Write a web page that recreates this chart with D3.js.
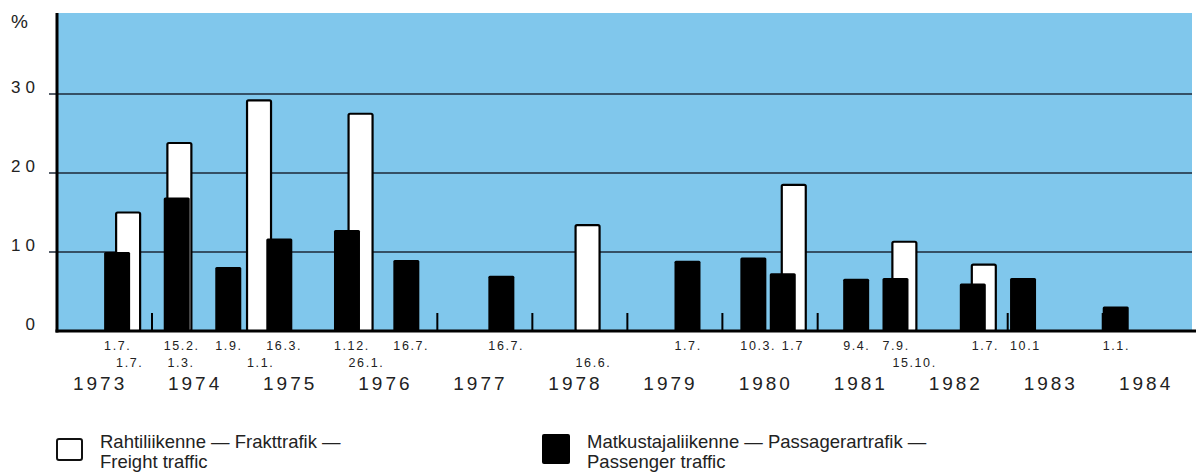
<!DOCTYPE html>
<html>
<head>
<meta charset="utf-8">
<script src="https://cdn.jsdelivr.net/npm/d3@7"></script>
<style>
  body { margin: 0; background: #fff; }
  svg { display: block; font-family: "Liberation Sans", Arial, sans-serif; }
</style>
</head>
<body>
<svg id="chart" width="1196" height="474"></svg>
<script>
////////////////////////////////////////////////////////////////////////////////////
// Data: tariff increases, % (passenger = black, freight = white)
var passengerDates  = ["1973-07-01", "1974-02-15", "1974-09-01", "1975-03-16", "1975-12-01", "1976-07-16",
                       "1977-07-16", "1979-07-01", "1980-03-10", "1980-07-01", "1981-04-09", "1981-09-07",
                       "1982-07-01", "1983-01-10", "1984-01-01"];
var passengerValues = [10, 16.9, 8.1, 11.7, 12.8, 9, 7, 8.9, 9.3, 7.3, 6.6, 6.7, 6, 6.7, 3.1];
var passengerLabels = ["1.7.", "15.2.", "1.9.", "16.3.", "1.12.", "16.7.", "16.7.", "1.7.", "10.3.", "1.7",
                       "9.4.", "7.9.", "1.7.", "10.1", "1.1."];

var freightDates  = ["1973-07-01", "1974-03-01", "1975-01-01", "1976-01-26", "1978-06-16", "1980-07-01",
                     "1981-10-15", "1982-07-01"];
var freightValues = [15, 23.8, 29.2, 27.5, 13.4, 18.5, 11.3, 8.4];
var freightLabels = ["1.7.", "1.3.", "1.1.", "26.1.", "16.6.", "", "15.10.", ""];

var years = [1973, 1974, 1975, 1976, 1977, 1978, 1979, 1980, 1981, 1982, 1983, 1984];
var yTicks = [0, 10, 20, 30];

var legendFreight   = ["Rahtiliikenne — Frakttrafik —", "Freight traffic"];
var legendPassenger = ["Matkustajaliikenne — Passagerartrafik —", "Passenger traffic"];

////////////////////////////////////////////////////////////////////////////////////
// Scales
var parse = d3.timeParse("%Y-%m-%d");
var svg = d3.select("#chart");

var xScale = d3.scaleTime()
               .domain([new Date(1973, 0, 1), new Date(1985, 0, 1)])
               .range([57, 1198]);
var yScale = d3.scaleLinear()
               .domain([0, 30])
               .range([331, 94]);

var blue = "rgb(128,199,236)";
var barW = 26;
var pairShift = 12; // freight bar nudged right when it shares a date with a passenger bar

// background
svg.append("rect")
   .attr("x", 57).attr("y", 13)
   .attr("width", 1192 - 57).attr("height", yScale(0) - 13)
   .style("fill", blue);

// gridlines (0 is drawn as the baseline)
svg.selectAll(".grid")
   .data(yTicks.filter(function(d) { return d > 0; }))
   .enter().append("line")
   .attr("class", "grid")
   .attr("x1", 49).attr("x2", 1192)
   .attr("y1", function(d) { return yScale(d); })
   .attr("y2", function(d) { return yScale(d); })
   .style("stroke", "#1c2838")
   .style("stroke-width", 1.4);

// y labels
svg.selectAll(".ylab")
   .data(yTicks)
   .enter().append("text")
   .attr("class", "ylab")
   .attr("x", 40)
   .attr("y", function(d) { return yScale(d) - 1; })
   .attr("text-anchor", "end")
   .style("font-size", "17px")
   .style("letter-spacing", "5px")
   .style("fill", "#222")
   .text(function(d) { return d; });

svg.append("text")
   .attr("x", 11).attr("y", 28)
   .style("font-size", "19px")
   .style("fill", "#222")
   .text("%");

// year boundary ticks
svg.selectAll(".ytick")
   .data(years.slice(1))
   .enter().append("line")
   .attr("class", "ytick")
   .attr("x1", function(d) { return xScale(new Date(d, 0, 1)); })
   .attr("x2", function(d) { return xScale(new Date(d, 0, 1)); })
   .attr("y1", yScale(0) - 18).attr("y2", yScale(0))
   .style("stroke", "#000")
   .style("stroke-width", 2);

////////////////////////////////////////////////////////////////////////////////////
// Bars
var freight = freightDates.map(function(d, i) {
  var shared = passengerDates.indexOf(d) >= 0;
  return { date: parse(d), value: freightValues[i], label: freightLabels[i], shift: shared ? pairShift : 0 };
});
var passenger = passengerDates.map(function(d, i) {
  // a shared date without its own freight label is written over the pair
  var fi = freightDates.indexOf(d);
  var labelShift = (fi >= 0 && freightLabels[fi] === "") ? pairShift : 0;
  return { date: parse(d), value: passengerValues[i], label: passengerLabels[i], labelShift: labelShift };
});

svg.selectAll(".freight")
   .data(freight)
   .enter().append("rect")
   .attr("class", "freight")
   .attr("x", function(d) { return xScale(d.date) + d.shift; })
   .attr("y", function(d) { return yScale(d.value); })
   .attr("width", barW - 2)
   .attr("height", function(d) { return yScale(0) - yScale(d.value); })
   .attr("rx", 1.5)
   .style("fill", "#fff")
   .style("stroke", "#000")
   .style("stroke-width", 2.2);

svg.selectAll(".passenger")
   .data(passenger)
   .enter().append("rect")
   .attr("class", "passenger")
   .attr("x", function(d) { return xScale(d.date); })
   .attr("y", function(d) { return yScale(d.value); })
   .attr("width", barW)
   .attr("height", function(d) { return yScale(0) - yScale(d.value); })
   .attr("rx", 1.5)
   .style("fill", "#000");

// left axis and baseline
svg.append("line")
   .attr("x1", 57).attr("x2", 57)
   .attr("y1", 13).attr("y2", yScale(0) + 1.5)
   .style("stroke", "#000").style("stroke-width", 3);
svg.append("line")
   .attr("x1", 55.5).attr("x2", 1196)
   .attr("y1", yScale(0)).attr("y2", yScale(0))
   .style("stroke", "#000").style("stroke-width", 3);

////////////////////////////////////////////////////////////////////////////////////
// Date labels (passenger on first row, freight on second)
svg.selectAll(".plab")
   .data(passenger)
   .enter().append("text")
   .attr("class", "plab")
   .attr("x", function(d) { return xScale(d.date) + d.labelShift; })
   .attr("y", 350)
   .style("font-size", "12.5px")
   .style("letter-spacing", "1.6px")
   .style("fill", "#222")
   .text(function(d) { return d.label; });

svg.selectAll(".flab")
   .data(freight)
   .enter().append("text")
   .attr("class", "flab")
   .attr("x", function(d) { return xScale(d.date) + d.shift; })
   .attr("y", 367)
   .style("font-size", "12.5px")
   .style("letter-spacing", "1.6px")
   .style("fill", "#222")
   .text(function(d) { return d.label; });

// year labels
svg.selectAll(".year")
   .data(years)
   .enter().append("text")
   .attr("class", "year")
   .attr("x", function(d) { return xScale(new Date(d, 6, 1)) - 4; })
   .attr("y", 390)
   .attr("text-anchor", "middle")
   .style("font-size", "19px")
   .style("letter-spacing", "3px")
   .style("fill", "#222")
   .text(function(d) { return d; });

////////////////////////////////////////////////////////////////////////////////////
// Legend
svg.append("rect")
   .attr("x", 57).attr("y", 439).attr("width", 25).attr("height", 21).attr("rx", 2)
   .style("fill", "#fff").style("stroke", "#111").style("stroke-width", 2);
svg.append("rect")
   .attr("x", 542).attr("y", 434).attr("width", 28).attr("height", 30).attr("rx", 2)
   .style("fill", "#000");

function legendText(x, lines) {
  var t = svg.append("text")
             .attr("x", x).attr("y", 448)
             .style("font-size", "18.5px")
             .style("fill", "#222");
  lines.forEach(function(l, i) {
    t.append("tspan").attr("x", x).attr("dy", i === 0 ? 0 : 20).text(l);
  });
}
legendText(100, legendFreight);
legendText(587, legendPassenger);
</script>
</body>
</html>
